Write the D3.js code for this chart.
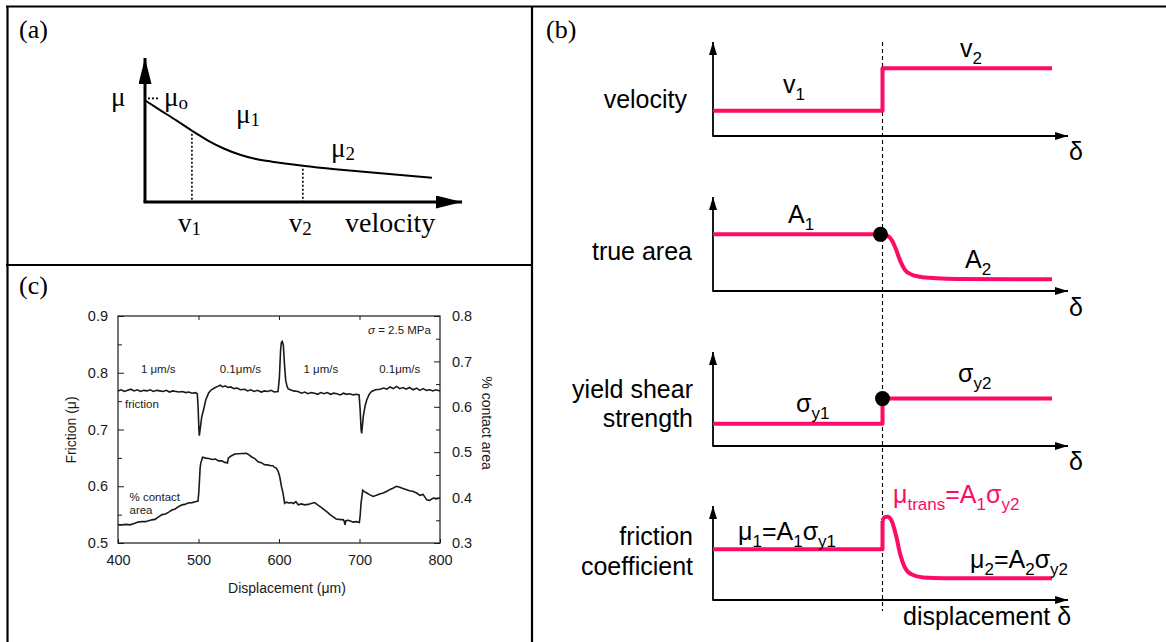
<!DOCTYPE html>
<html>
<head>
<meta charset="utf-8">
<script src="https://cdn.jsdelivr.net/npm/d3@7"></script>
<style>
  body { margin: 0; background: #fff; }
</style>
</head>
<body>
<svg id="fig" width="1166" height="642"></svg>
<script>
// ---------- panel (a): friction vs velocity (schematic) ----------
const aVelocity = [0, 0.05, 0.10, 0.148, 0.20, 0.25, 0.30, 0.35, 0.40, 0.498, 0.60, 0.716, 0.905];
const aMu       = [0.706, 0.635, 0.565, 0.495, 0.425, 0.37, 0.328, 0.298, 0.28, 0.252, 0.228, 0.205, 0.168];
const aMarks = [0.148, 0.498];
const aMarkNames = ["1", "2"];

// ---------- panel (b): step schematics ----------
const velStepX = [0, 0.5, 0.5, 1];
const velStepY = [2.75, 2.75, 7.36, 7.36];

const areaStepX = [0, 0.5];
const areaStepY = [6.16, 6.16];
const areaRelaxX = [0.5, 0.515, 0.528, 0.54, 0.552, 0.566, 0.585, 0.61, 0.66, 0.72, 1];
const areaRelaxY = [6.16, 6.0, 5.5, 4.5, 3.3, 2.3, 1.8, 1.55, 1.38, 1.3, 1.27];

const yieldStepX = [0, 0.5, 0.5, 1];
const yieldStepY = [2.43, 2.43, 5.15, 5.15];

const fricStepX = [0, 0.5, 0.5];
const fricStepY = [5.51, 5.51, 8.6];
const fricRelaxX = [0.5, 0.506, 0.515, 0.527, 0.54, 0.552, 0.565, 0.585, 0.62, 0.68, 1];
const fricRelaxY = [8.6, 9.0, 9.05, 8.6, 7.0, 5.0, 3.6, 2.8, 2.45, 2.36, 2.36];

const areaDot = [0.5, 6.16];
const yieldDot = [0.5, 5.15];

// ---------- panel (c): measured friction and contact area ----------
const frictionDisp = [400, 404, 408, 412, 416, 420, 424, 428, 432, 436, 440, 444, 448, 452, 456, 460, 464, 468, 472, 476,
  480, 484, 488, 492, 496, 498.5, 499.5, 500.5, 501, 502, 504, 506.5, 509, 512.7, 516, 520.9, 524, 527, 530, 533,
  536.6, 540, 544, 548, 552, 557.4, 561, 565, 569, 573, 578, 582, 586, 590, 594, 598.8, 600.4, 600.9, 602, 602.9,
  604, 605.4, 606.8, 608.3, 610, 611.2, 614, 618, 623.6, 628, 632, 636, 640, 644.3, 648, 652, 656, 660, 664, 668,
  672, 676, 680, 684, 688, 692, 696, 699.5, 700.8, 702, 702.7, 704.7, 707, 709, 712, 715, 720, 725.5, 730, 734,
  738, 742, 746, 750, 754, 758, 762, 766.8, 771, 775, 779, 783, 787.6, 791, 795, 800];
const frictionMu = [0.768, 0.770, 0.767, 0.769, 0.771, 0.768, 0.770, 0.767, 0.769, 0.768, 0.770, 0.767, 0.769, 0.768, 0.767, 0.769, 0.766, 0.768, 0.767, 0.766,
  0.767, 0.765, 0.766, 0.764, 0.765, 0.763, 0.740, 0.700, 0.689, 0.700, 0.722, 0.736, 0.752, 0.765, 0.770, 0.774, 0.776, 0.778, 0.775, 0.777,
  0.774, 0.775, 0.772, 0.773, 0.770, 0.771, 0.768, 0.770, 0.767, 0.769, 0.766, 0.768, 0.767, 0.769, 0.766, 0.767, 0.790, 0.805, 0.840, 0.853,
  0.855, 0.849, 0.815, 0.787, 0.776, 0.772, 0.770, 0.768, 0.767, 0.764, 0.766, 0.763, 0.765, 0.764, 0.762, 0.765, 0.763, 0.765, 0.762, 0.764,
  0.763, 0.761, 0.764, 0.762, 0.763, 0.761, 0.762, 0.761, 0.735, 0.700, 0.693, 0.723, 0.742, 0.752, 0.762, 0.767, 0.770, 0.771, 0.773, 0.771,
  0.775, 0.772, 0.776, 0.772, 0.774, 0.771, 0.774, 0.770, 0.773, 0.769, 0.772, 0.769, 0.770, 0.768, 0.770, 0.768];

const areaDisp = [400, 405, 410, 415, 420, 425, 429.8, 434, 438, 442, 446, 450, 454.7, 459, 463, 467, 471, 475, 479.5, 483,
  487, 492, 496, 499.4, 500.3, 501, 502, 502.7, 505, 509, 512.7, 517, 521, 525, 529, 532.5, 535, 536, 537, 540,
  545, 550, 555, 559.4, 562, 565.6, 570, 574, 578, 582, 586, 590, 592.5, 594, 596.6, 599, 600.9, 603, 605, 607,
  609, 612, 615.3, 618, 621, 624, 627.7, 632, 636, 640, 644.3, 648, 652, 656.8, 660, 663.4, 667, 671, 675, 680,
  681, 682, 683, 686, 688, 692, 696, 699.8, 700.8, 701.9, 704, 706, 709, 713, 717, 721, 725, 729.6, 734, 738,
  742, 746, 750, 754, 758.6, 762, 766, 771, 775, 779, 783.5, 787, 791.7, 795, 800];
const areaFrac = [0.340, 0.340, 0.341, 0.340, 0.343, 0.346, 0.3475, 0.347, 0.349, 0.351, 0.352, 0.357, 0.3625, 0.364, 0.368, 0.3725, 0.375, 0.380, 0.384, 0.385,
  0.388, 0.389, 0.391, 0.3925, 0.410, 0.431, 0.465, 0.475, 0.489, 0.487, 0.486, 0.484, 0.485, 0.481, 0.481, 0.4775, 0.477, 0.476, 0.487, 0.491,
  0.496, 0.4965, 0.497, 0.4975, 0.495, 0.490, 0.486, 0.479, 0.477, 0.4725, 0.472, 0.470, 0.470, 0.467, 0.465, 0.458, 0.446, 0.425, 0.410, 0.3875,
  0.390, 0.388, 0.389, 0.387, 0.391, 0.384, 0.386, 0.384, 0.385, 0.387, 0.389, 0.384, 0.379, 0.3725, 0.368, 0.3625, 0.358, 0.353, 0.352, 0.351,
  0.348, 0.340, 0.349, 0.350, 0.349, 0.346, 0.347, 0.345, 0.360, 0.3875, 0.416, 0.413, 0.410, 0.406, 0.4025, 0.405, 0.408, 0.410, 0.414, 0.418,
  0.421, 0.425, 0.423, 0.420, 0.4175, 0.415, 0.414, 0.410, 0.405, 0.407, 0.395, 0.394, 0.399, 0.397, 0.399];

const cLeftTicks = [0.5, 0.6, 0.7, 0.8, 0.9];
const cLeftMinor = [0.55, 0.65, 0.75, 0.85];
const cRightTicks = [0.3, 0.4, 0.5, 0.6, 0.7, 0.8];
const cRightMinor = [0.35, 0.45, 0.55, 0.65, 0.75];
const cXTicks = [400, 500, 600, 700, 800];
const cSpeeds = [["1 \u03bcm/s", 450], ["0.1\u03bcm/s", 552], ["1 \u03bcm/s", 652], ["0.1\u03bcm/s", 750]];

const svg = d3.select("#fig");
svg.append("rect").attr("width", 1166).attr("height", 642).attr("fill", "#fff");

const PINK = "#ff0a66";
const SERIF = "'Liberation Serif', 'Times New Roman', serif";
const SANS = "'Liberation Sans', Arial, sans-serif";

// text with subscripts: parts are strings or [subscriptString]
function richText(parent, x, y, parts, o) {
  const t = parent.append("text")
    .attr("x", x).attr("y", y)
    .attr("font-family", o.family)
    .attr("font-size", o.size)
    .attr("text-anchor", o.anchor || "start")
    .attr("fill", o.fill || "#000");
  let shift = 0;
  parts.forEach(p => {
    const sub = Array.isArray(p);
    const target = sub ? o.subShift : 0;
    t.append("tspan")
      .attr("dy", target - shift)
      .attr("font-size", sub ? o.subSize : o.size)
      .text(sub ? p[0] : p);
    shift = target;
  });
  return t;
}

// arrow markers
const defs = svg.append("defs");
function marker(id, w, h) {
  defs.append("marker").attr("id", id)
    .attr("viewBox", `0 0 ${w} ${h}`)
    .attr("refX", w).attr("refY", h / 2)
    .attr("markerWidth", w).attr("markerHeight", h)
    .attr("markerUnits", "userSpaceOnUse")
    .attr("orient", "auto")
    .append("path").attr("d", `M0,0L${w},${h / 2}L0,${h}Z`).attr("fill", "#000");
}
marker("arrA", 26, 13);
marker("arrB", 13, 8);

// ---------- frame ----------
const frame = svg.append("g").attr("stroke", "#000").attr("stroke-width", 2.2);
frame.append("line").attr("x1", 6).attr("x2", 1166).attr("y1", 6.5).attr("y2", 6.5);
frame.append("line").attr("x1", 7.5).attr("x2", 7.5).attr("y1", 6).attr("y2", 642);
frame.append("line").attr("x1", 532).attr("x2", 532).attr("y1", 6).attr("y2", 642);
frame.append("line").attr("x1", 6).attr("x2", 532).attr("y1", 265).attr("y2", 265);

svg.append("text").attr("x", 19).attr("y", 38).attr("font-family", SERIF).attr("font-size", 26).text("(a)");
svg.append("text").attr("x", 546).attr("y", 38).attr("font-family", SERIF).attr("font-size", 26).text("(b)");
svg.append("text").attr("x", 19).attr("y", 294).attr("font-family", SERIF).attr("font-size", 26).text("(c)");

// ---------- panel (a) ----------
{
  const g = svg.append("g");
  const x = d3.scaleLinear().domain([0, 1]).range([145, 462]);
  const y = d3.scaleLinear().domain([0, 1]).range([202, 58]);

  g.append("line").attr("x1", x(0)).attr("y1", y(0)).attr("x2", x(0)).attr("y2", y(1))
    .attr("stroke", "#000").attr("stroke-width", 3).attr("marker-end", "url(#arrA)");
  g.append("line").attr("x1", x(0) - 1.5).attr("y1", y(0)).attr("x2", x(1)).attr("y2", y(0))
    .attr("stroke", "#000").attr("stroke-width", 3).attr("marker-end", "url(#arrA)");

  const pts = aVelocity.map((v, i) => [v, aMu[i]]);
  const line = d3.line().curve(d3.curveMonotoneX).x(d => x(d[0])).y(d => y(d[1]));
  g.append("path").attr("d", line(pts)).attr("fill", "none").attr("stroke", "#000").attr("stroke-width", 2);

  const muAt = v => aMu[aVelocity.indexOf(v)];
  aMarks.forEach((v, i) => {
    g.append("line").attr("x1", x(v)).attr("x2", x(v)).attr("y1", y(muAt(v)) + 3).attr("y2", y(0))
      .attr("stroke", "#000").attr("stroke-width", 1.6).attr("stroke-dasharray", "2,2");
    richText(g, x(v) - 14, 232, ["v", [aMarkNames[i]]], { family: SERIF, size: 27, subSize: 19, subShift: 3 });
  });
  // mu_o stub
  g.append("line").attr("x1", x(0) + 3).attr("x2", x(0) + 13).attr("y1", y(aMu[0]) - 2).attr("y2", y(aMu[0]) - 2)
    .attr("stroke", "#000").attr("stroke-width", 1.6).attr("stroke-dasharray", "2,2");

  const so = { family: SERIF, size: 27, subSize: 19, subShift: 3 };
  richText(g, 111, 106, ["\u03bc"], so);
  richText(g, 164, 106, ["\u03bc", ["o"]], so);
  richText(g, 236, 123, ["\u03bc", ["1"]], so);
  richText(g, 331, 157, ["\u03bc", ["2"]], so);
  g.append("text").attr("x", 345).attr("y", 232).attr("font-family", SERIF).attr("font-size", 28).text("velocity");
}

// ---------- panel (b) ----------
{
  const g = svg.append("g");
  const x = d3.scaleLinear().domain([0, 1]).range([713, 1052]);
  const xEnd = 1068;
  const rows = [
    { axisY: 136, name: ["velocity"], nameY: [108], nameX: 687 },
    { axisY: 291, name: ["true area"], nameY: [260], nameX: 692 },
    { axisY: 446, name: ["yield shear", "strength"], nameY: [398, 427], nameX: 693 },
    { axisY: 600, name: ["friction", "coefficient"], nameY: [545, 575], nameX: 693 }
  ];
  const ys = rows.map(r => d3.scaleLinear().domain([0, 10]).range([r.axisY, r.axisY - 92]));

  // dashed transition line
  g.append("line").attr("x1", x(0.5)).attr("x2", x(0.5)).attr("y1", 42).attr("y2", 611)
    .attr("stroke", "#000").attr("stroke-width", 1.1).attr("stroke-dasharray", "4,3");

  rows.forEach((r, i) => {
    g.append("line").attr("x1", x(0)).attr("x2", x(0)).attr("y1", r.axisY + 0.8).attr("y2", r.axisY - 94)
      .attr("stroke", "#000").attr("stroke-width", 1.8).attr("marker-end", "url(#arrB)");
    g.append("line").attr("x1", x(0)).attr("x2", xEnd).attr("y1", r.axisY).attr("y2", r.axisY)
      .attr("stroke", "#000").attr("stroke-width", 1.8).attr("marker-end", "url(#arrB)");
    r.name.forEach((s, k) => {
      g.append("text").attr("x", r.nameX).attr("y", r.nameY[k]).attr("text-anchor", "end")
        .attr("font-family", SANS).attr("font-size", 25).text(s);
    });
    if (i < 3) {
      g.append("text").attr("x", 1069).attr("y", [160, 316, 470][i])
        .attr("font-family", SANS).attr("font-size", 25).text("\u03b4");
    }
  });

  const lin = (ySc) => d3.line().x(d => x(d[0])).y(d => ySc(d[1]));
  const smooth = (ySc) => d3.line().curve(d3.curveMonotoneX).x(d => x(d[0])).y(d => ySc(d[1]));
  const zip = (a, b) => a.map((v, i) => [v, b[i]]);
  const red = p => p.attr("fill", "none").attr("stroke", PINK).attr("stroke-width", 4)
    .attr("stroke-linejoin", "round").attr("stroke-linecap", "butt");

  red(g.append("path").attr("d", lin(ys[0])(zip(velStepX, velStepY))));
  red(g.append("path").attr("d", lin(ys[1])(zip(areaStepX, areaStepY))));
  red(g.append("path").attr("d", smooth(ys[1])(zip(areaRelaxX, areaRelaxY))));
  red(g.append("path").attr("d", lin(ys[2])(zip(yieldStepX, yieldStepY))));
  red(g.append("path").attr("d", lin(ys[3])(zip(fricStepX, fricStepY))));
  red(g.append("path").attr("d", smooth(ys[3])(zip(fricRelaxX, fricRelaxY))));

  g.append("circle").attr("cx", x(areaDot[0]) - 2).attr("cy", ys[1](areaDot[1])).attr("r", 7.5).attr("fill", "#000");
  g.append("circle").attr("cx", x(yieldDot[0])).attr("cy", ys[2](yieldDot[1])).attr("r", 7.5).attr("fill", "#000");

  const so = { family: SANS, size: 25, subSize: 17, subShift: 7 };
  richText(g, 783, 93, ["v", ["1"]], so);
  richText(g, 960, 57, ["v", ["2"]], so);
  richText(g, 788, 223, ["A", ["1"]], so);
  richText(g, 965, 268, ["A", ["2"]], so);
  richText(g, 796, 412, ["\u03c3", ["y1"]], so);
  richText(g, 958, 382, ["\u03c3", ["y2"]], so);
  richText(g, 893, 503, ["\u03bc", ["trans"], "=A", ["1"], "\u03c3", ["y2"]], Object.assign({ fill: PINK }, so));
  richText(g, 738, 540, ["\u03bc", ["1"], "=A", ["1"], "\u03c3", ["y1"]], so);
  richText(g, 970, 568, ["\u03bc", ["2"], "=A", ["2"], "\u03c3", ["y2"]], so);
  g.append("text").attr("x", 903).attr("y", 625).attr("font-family", SANS).attr("font-size", 25).text("displacement \u03b4");
}

// ---------- panel (c) ----------
{
  const INK = "#1a1a1a";
  const g = svg.append("g").attr("font-family", SANS).attr("fill", INK);
  const x = d3.scaleLinear().domain([400, 800]).range([118, 440]);
  const yL = d3.scaleLinear().domain([0.5, 0.9]).range([543, 316]);
  const yR = d3.scaleLinear().domain([0.3, 0.8]).range([543, 316]);

  const styleAxis = sel => {
    sel.select(".domain").remove();
    sel.selectAll("line").attr("stroke", INK).attr("stroke-width", 1);
    sel.selectAll("text").attr("fill", INK).attr("font-size", 14.5).attr("font-family", SANS);
  };

  g.append("g").attr("transform", "translate(118,0)")
    .call(d3.axisLeft(yL).tickValues(cLeftTicks).tickFormat(d3.format(".1f")).tickSizeInner(-6).tickSizeOuter(0).tickPadding(10))
    .call(styleAxis);
  g.append("g").attr("transform", "translate(118,0)")
    .call(d3.axisLeft(yL).tickValues(cLeftMinor).tickFormat("").tickSizeInner(-4).tickSizeOuter(0))
    .call(styleAxis);
  g.append("g").attr("transform", "translate(440,0)")
    .call(d3.axisRight(yR).tickValues(cRightTicks).tickFormat(d3.format(".1f")).tickSizeInner(-6).tickSizeOuter(0).tickPadding(12))
    .call(styleAxis);
  g.append("g").attr("transform", "translate(440,0)")
    .call(d3.axisRight(yR).tickValues(cRightMinor).tickFormat("").tickSizeInner(-4).tickSizeOuter(0))
    .call(styleAxis);
  g.append("g").attr("transform", "translate(0,543)")
    .call(d3.axisBottom(x).tickValues(cXTicks).tickSizeInner(-4).tickSizeOuter(0).tickPadding(12))
    .call(styleAxis);
  g.append("g").attr("transform", "translate(0,316)")
    .call(d3.axisTop(x).tickValues(cXTicks.slice(1, 4)).tickFormat("").tickSizeInner(-4).tickSizeOuter(0))
    .call(styleAxis);

  g.append("rect").attr("x", 118).attr("y", 316).attr("width", 322).attr("height", 227)
    .attr("fill", "none").attr("stroke", INK).attr("stroke-width", 1.2);

  const fLine = d3.line().x((d, i) => x(frictionDisp[i])).y((d, i) => yL(frictionMu[i]));
  g.append("path").attr("d", fLine(frictionMu)).attr("fill", "none").attr("stroke", INK).attr("stroke-width", 1.6);
  const aLine = d3.line().x((d, i) => x(areaDisp[i])).y((d, i) => yR(areaFrac[i]));
  g.append("path").attr("d", aLine(areaFrac)).attr("fill", "none").attr("stroke", INK).attr("stroke-width", 1.6);

  g.append("text").attr("transform", "translate(76,430) rotate(-90)").attr("text-anchor", "middle")
    .attr("font-size", 14).text("Friction (\u03bc)");
  g.append("text").attr("transform", "translate(482,423) rotate(90)").attr("text-anchor", "middle")
    .attr("font-size", 14).text("% contact area");
  g.append("text").attr("x", 287).attr("y", 593).attr("text-anchor", "middle")
    .attr("font-size", 14).text("Displacement (\u03bcm)");

  const sig = g.append("text").attr("x", 368).attr("y", 334).attr("font-size", 11.5);
  sig.append("tspan").attr("font-style", "italic").text("\u03c3");
  sig.append("tspan").text(" = 2.5 MPa");

  cSpeeds.forEach(([s, v]) => {
    g.append("text").attr("x", x(v)).attr("y", 373).attr("text-anchor", "middle").attr("font-size", 11.5).text(s);
  });
  g.append("text").attr("x", 125).attr("y", 408).attr("font-size", 11.5).text("friction");
  g.append("text").attr("x", 129.5).attr("y", 501).attr("font-size", 11.5).text("% contact");
  g.append("text").attr("x", 129.5).attr("y", 514).attr("font-size", 11.5).text("area");
}
</script>
</body>
</html>
